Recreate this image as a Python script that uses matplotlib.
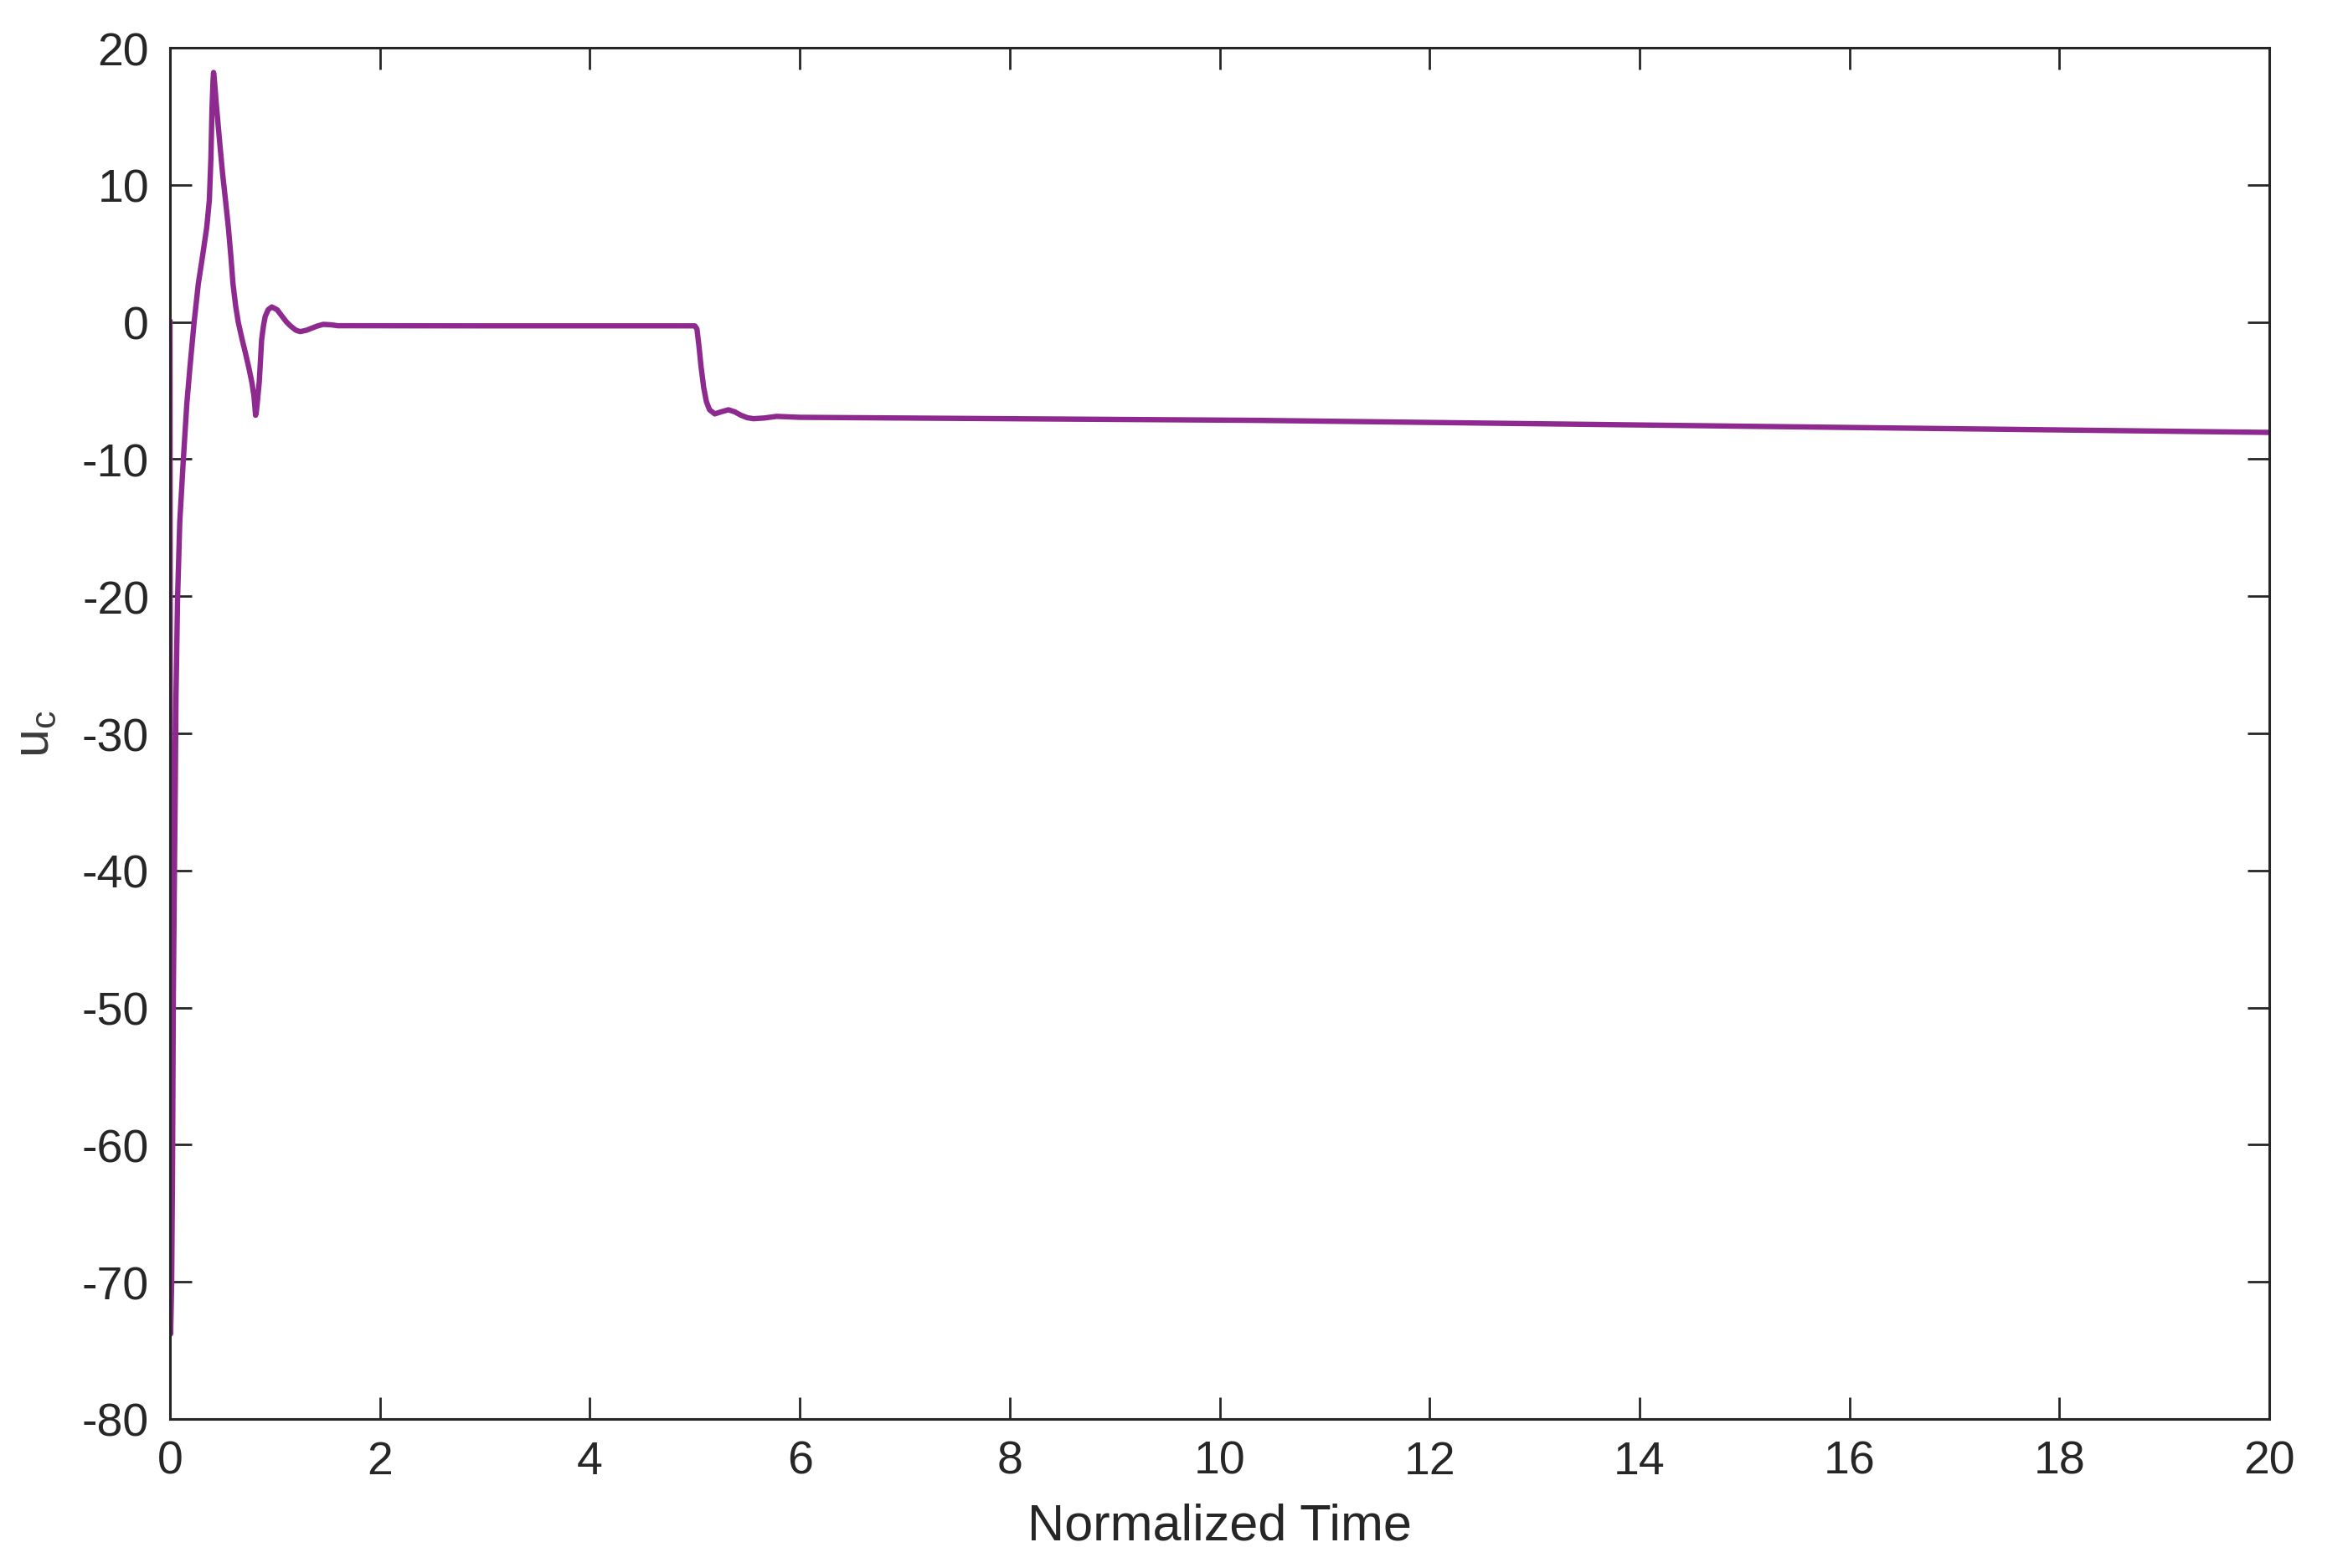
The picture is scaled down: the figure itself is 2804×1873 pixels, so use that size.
import matplotlib
matplotlib.use('Agg')
from matplotlib import pyplot as plt

# control input vs normalized time
t = [0.0, 0.006, 0.016, 0.024, 0.032, 0.043, 0.051, 0.057, 0.072, 0.093,
     0.125, 0.16, 0.19, 0.23, 0.27, 0.31, 0.35, 0.375, 0.39, 0.40,
     0.41, 0.415, 0.42, 0.43, 0.44, 0.47, 0.50, 0.53, 0.556, 0.58,
     0.60, 0.625, 0.65, 0.685, 0.72, 0.75, 0.78, 0.80, 0.81, 0.815,
     0.822, 0.83, 0.84, 0.85, 0.862, 0.873, 0.89, 0.907, 0.935, 0.97,
     1.02, 1.07, 1.11, 1.15, 1.20, 1.24, 1.30, 1.35, 1.40, 1.46,
     1.53, 1.60, 3.0, 5.0, 5.02, 5.04, 5.06, 5.085, 5.11, 5.14,
     5.19, 5.25, 5.32, 5.38, 5.44, 5.50, 5.56, 5.66, 5.78, 6.0,
     10.35, 15.0, 20.0]
u_c = [0.0, -73.8, -70.0, -62.0, -49.0, -39.5, -33.4, -27.3, -20.2, -14.6,
       -10.3, -6.0, -3.3, 0.0, 2.8, 4.8, 6.9, 8.9, 12.0, 15.5,
       17.6, 18.2, 17.9, 17.0, 16.0, 13.4, 10.9, 8.8, 6.9, 4.8,
       2.8, 1.2, 0.0, -1.2, -2.3, -3.3, -4.4, -5.4, -6.3, -6.8,
       -6.6, -6.0, -5.2, -4.4, -2.8, -1.3, -0.3, 0.4, 0.9, 1.1,
       0.9, 0.4, 0.0, -0.3, -0.6, -0.7, -0.6, -0.45, -0.3, -0.17,
       -0.2, -0.27, -0.28, -0.28, -0.5, -1.8, -3.3, -4.8, -5.8, -6.4,
       -6.7, -6.55, -6.4, -6.55, -6.8, -6.98, -7.05, -7.0, -6.88, -6.95,
       -7.17, -7.6, -8.05]

xticks = list(range(0, 21, 2))
yticks = list(range(-80, 21, 10))

plt.rcParams['font.family'] = ['Liberation Sans', 'DejaVu Sans']
plt.rcParams['mathtext.default'] = 'regular'
plt.rcParams['axes.unicode_minus'] = False
txt = '#262626'

fig = plt.figure(figsize=(14.02, 9.37), dpi=200)
ax = fig.add_axes([0.0724, 0.0950, 0.8941, 0.8740])
ax.plot(t, u_c, color='#8E2A8F', lw=2.3, solid_joinstyle='round')

ax.set_xlim(0, 20)
ax.set_ylim(-80, 20)
ax.set_xticks(xticks)
ax.set_yticks(yticks)
ax.tick_params(direction='in', length=9.4, width=1.0, labelsize=20,
               top=True, right=True, colors=txt, pad=9)
for s in ax.spines.values():
    s.set_linewidth(1.1)
    s.set_color(txt)

ax.set_xlabel('Normalized Time', fontsize=22, color=txt, labelpad=8)
ax.set_ylabel('u$_c$', fontsize=22, color='#3a3a3a', labelpad=10)

fig.savefig('out.png', dpi=200)
